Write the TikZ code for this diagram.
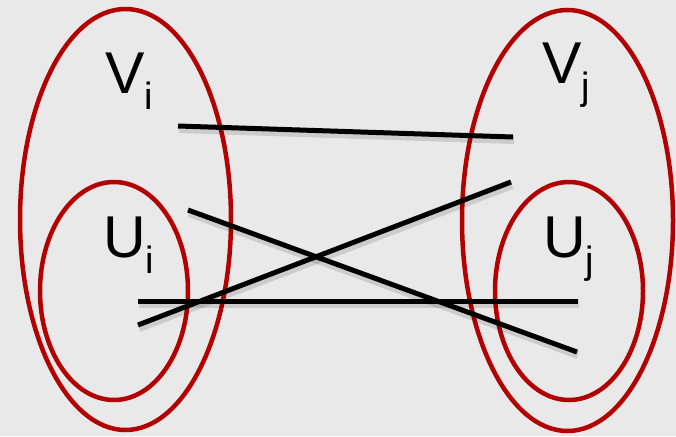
\documentclass[tikz,border=0pt]{standalone}
\usepackage{fontspec}
\setmainfont{Liberation Sans}
\usetikzlibrary{shapes.geometric}
\definecolor{setred}{HTML}{B30000}
\definecolor{slidegray}{HTML}{E9E9E9}
\newcommand{\setname}[2]{#1\raisebox{-16pt}{\fontsize{38}{40}\selectfont #2}}

\begin{document}
\begin{tikzpicture}[
  x=1pt, y=-1pt,
  setring/.style={draw=setred, ellipse, line width=4.5pt, inner sep=0pt, outer sep=0pt},
  bigset/.style={setring, minimum width=211pt, minimum height=421pt},
  subset/.style={setring, minimum width=148pt, minimum height=218pt},
  setlabel/.style={anchor=base west, inner sep=0pt, font=\fontsize{59}{61}\selectfont},
  edge/.style={draw=black, line width=5pt,
    preaction={draw=black, opacity=0.12, line width=8pt, transform canvas={shift={(1pt,-3pt)}}}}
]
\fill[slidegray] (0,0) rectangle (676,436);
\useasboundingbox (0,0) rectangle (676,436);

% the two sets and their subsets
\node[bigset] (setvi) at (125.5,219.5) {};
\node[subset] (setui) at (114,291) {};
\node[bigset] (setvj) at (567.5,220.5) {};
\node[subset] (setuj) at (569,291) {};

\node[setlabel] (labvi) at (105,93) {\setname{V}{i}};
\node[setlabel] (labui) at (103,257) {\setname{U}{i}};
\node[setlabel] (labvj) at (542,83) {\setname{V}{j}};
\node[setlabel] (labuj) at (543,257) {\setname{U}{j}};

% edge end points
\coordinate (ia) at (178,126);
\coordinate (ib) at (188,210);
\coordinate (ic) at (138,325);
\coordinate (id) at (138,301);
\coordinate (ja) at (513,137);
\coordinate (jb) at (577,352);
\coordinate (jc) at (511,182);
\coordinate (jd) at (578,301);

\draw[edge] (ia) -- (ja);
\draw[edge] (ib) -- (jb);
\draw[edge] (ic) -- (jc);
\draw[edge] (id) -- (jd);
\end{tikzpicture}
\end{document}
